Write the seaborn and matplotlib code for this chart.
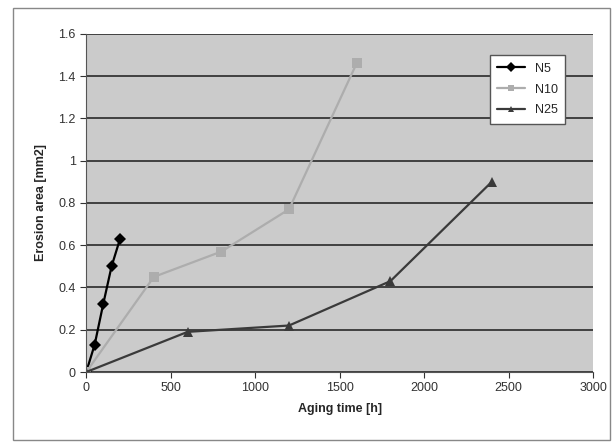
import numpy as np
import pandas as pd
import seaborn as sns
import matplotlib.pyplot as plt
from matplotlib.patches import Rectangle

# data
n5_time = [0, 50, 100, 150, 200]
n5_area = [0, 0.13, 0.32, 0.50, 0.63]
n10_time = [0, 400, 800, 1200, 1600]
n10_area = [0, 0.45, 0.57, 0.77, 1.46]
n25_time = [0, 600, 1200, 1800, 2400]
n25_area = [0, 0.19, 0.22, 0.43, 0.90]

df = pd.concat([
    pd.DataFrame({'time': n5_time, 'area': n5_area, 'series': 'N5'}),
    pd.DataFrame({'time': n10_time, 'area': n10_area, 'series': 'N10'}),
    pd.DataFrame({'time': n25_time, 'area': n25_area, 'series': 'N25'}),
])

sns.set_style('white')
plt.rcParams['font.family'] = ['Liberation Sans', 'DejaVu Sans']

fig = plt.figure(figsize=(6.16, 4.45), dpi=100)
fig.patch.set_facecolor('white')
fig.add_artist(Rectangle((0.021, 0.011), 0.970, 0.970, transform=fig.transFigure,
                         fill=False, edgecolor='#888888', linewidth=1.0))
ax = fig.add_axes([0.140, 0.164, 0.823, 0.760])
ax.set_facecolor('#cbcbcb')

palette = {'N5': '#000000', 'N10': '#adadad', 'N25': '#3a3a3a'}
markers = {'N5': 'D', 'N10': 's', 'N25': '^'}
sns.lineplot(data=df, x='time', y='area', hue='series', style='series',
             palette=palette, markers=markers, dashes=False, markersize=6.5,
             linewidth=1.6, markeredgewidth=0, ax=ax)

ax.set_xlim(0, 3000)
ax.set_ylim(0, 1.6)
ax.set_xticks(np.arange(0, 3001, 500))
ax.set_yticks(np.arange(0, 1.61, 0.2))
ax.set_yticklabels(['0', '0.2', '0.4', '0.6', '0.8', '1', '1.2', '1.4', '1.6'])
ax.yaxis.grid(True, color='#2a2a2a', linewidth=1.2)
ax.set_axisbelow(True)
for s in ['top', 'right']:
    ax.spines[s].set_visible(False)
for s in ['left', 'bottom']:
    ax.spines[s].set_color('#555555')
ax.tick_params(axis='both', labelsize=9, colors='#333333', length=4, direction='out')
ax.tick_params(left=True, bottom=True)

ax.set_xlabel('Aging time [h]', fontsize=9, fontweight='bold', labelpad=6)
ax.set_ylabel('Erosion area [mm2]', fontsize=9, fontweight='bold', labelpad=8)

leg = ax.legend(loc='upper right', bbox_to_anchor=(0.957, 0.955), fontsize=9,
                frameon=True, fancybox=False, framealpha=1, edgecolor='#555555',
                handlelength=2.2, borderpad=0.6, labelspacing=0.7, markerscale=0.75)
leg.get_frame().set_facecolor('white')

fig.savefig('out.png', dpi=100)
